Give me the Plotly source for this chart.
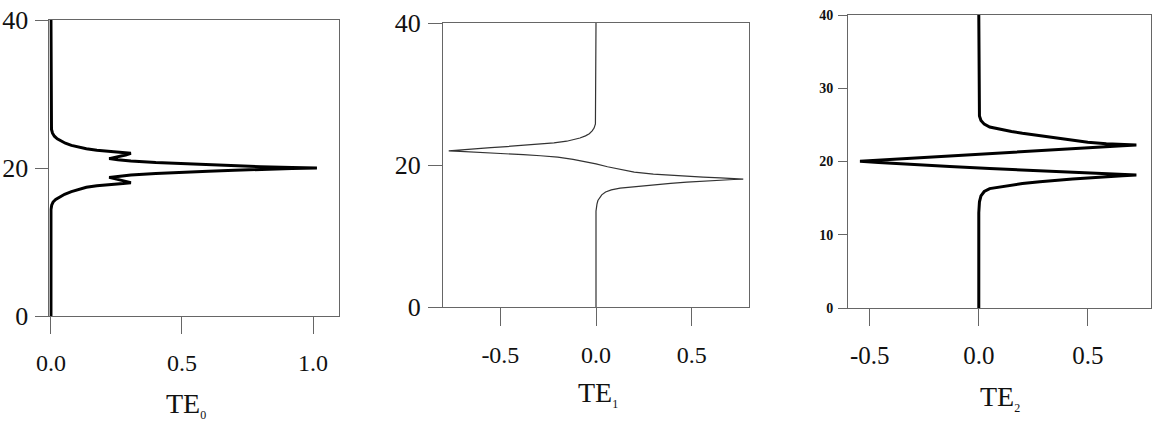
import plotly.graph_objects as go

# ---------------- data ----------------
te0_y = [40, 25.8, 25.2, 24.7, 24.3, 23.95, 23.65, 23.35, 23.05, 22.8, 22.6, 22.4, 22.22, 22.1, 21.98,
         21.75, 21.5, 21.27, 21.12, 20.95, 20.73, 20.58, 20.45, 20.3, 20.18, 20.08, 20.0,
         19.92, 19.82, 19.7, 19.55, 19.42, 19.27, 19.05, 18.88, 18.73, 18.5, 18.25, 18.02,
         17.9, 17.78, 17.6, 17.4, 17.1, 16.8, 16.45, 16.1, 15.75, 15.4, 15.0, 14.4, 0]
te0_x = [0, 0, 0.002, 0.006, 0.013, 0.024, 0.038, 0.055, 0.078, 0.105, 0.135, 0.175, 0.230, 0.275, 0.305,
         0.285, 0.250, 0.222, 0.255, 0.305, 0.40, 0.50, 0.60, 0.70, 0.80, 0.92, 1.015,
         0.92, 0.80, 0.70, 0.60, 0.50, 0.40, 0.305, 0.255, 0.222, 0.250, 0.285, 0.305,
         0.275, 0.230, 0.175, 0.135, 0.105, 0.078, 0.052, 0.032, 0.018, 0.008, 0.003, 0, 0]

te1_y = [40, 26.8, 25.8, 25.2, 24.8, 24.4, 24.1, 23.8, 23.55, 23.35, 23.12, 22.95, 22.77, 22.6,
         22.45, 22.3, 22.15, 22.0,
         21.92, 21.84, 21.72, 21.58, 21.45, 21.3, 21.1, 20.8, 20.5, 20.15, 19.75, 19.35, 19.0,
         18.72, 18.52, 18.4, 18.28, 18.18, 18.08, 18.02,
         17.96, 17.88, 17.76, 17.6, 17.42, 17.22, 17.0, 16.75, 16.5, 16.2, 15.8, 15.4, 15.0,
         14.5, 14.0, 13.5, 0]
te1_x = [0, 0, -0.003, -0.01, -0.02, -0.035, -0.055, -0.084, -0.12, -0.153, -0.22, -0.29, -0.38, -0.467,
         -0.55, -0.64, -0.71, -0.77,
         -0.71, -0.64, -0.55, -0.467, -0.38, -0.29, -0.2, -0.12, -0.06, 0.0, 0.06, 0.126, 0.2,
         0.3, 0.4, 0.475, 0.56, 0.65, 0.72, 0.77,
         0.72, 0.65, 0.56, 0.475, 0.39, 0.3, 0.2, 0.126, 0.08, 0.05, 0.03, 0.018, 0.01,
         0.005, 0.002, 0, 0]

te2_y = [40, 27, 26.2, 25.6, 25.1, 24.7, 24.35, 24.1, 23.85, 23.5, 23.15, 22.85, 22.62, 22.42,
         22.3, 22.25, 22.15, 22.02, 21.8, 21.6, 21.35, 21.12, 20.78, 20.42, 20.22, 20.05,
         19.87, 19.68, 19.33, 19.05, 18.85, 18.6, 18.42, 18.27, 18.2, 18.16, 18.05, 17.95,
         17.75, 17.6, 17.45, 17.25, 17.0, 16.8, 16.6, 16.3, 15.9, 15.3, 14.5, 13, 0]
te2_x = [0, 0, 0.003, 0.01, 0.025, 0.05, 0.1, 0.15, 0.2, 0.28, 0.356, 0.43, 0.5, 0.585,
         0.66, 0.723, 0.66, 0.585, 0.47, 0.356, 0.2, 0.05, -0.133, -0.362, -0.46, -0.545,
         -0.46, -0.362, -0.133, 0.05, 0.2, 0.356, 0.47, 0.585, 0.66, 0.723, 0.66, 0.585,
         0.5, 0.43, 0.356, 0.28, 0.2, 0.15, 0.1, 0.05, 0.025, 0.01, 0.003, 0, 0]

x_ticks = [[0.0, 0.5, 1.0], [-0.5, 0.0, 0.5], [-0.5, 0.0, 0.5]]
y_ticks = [[0, 20, 40], [0, 20, 40], [0, 10, 20, 30, 40]]
title_subs = ["0", "1", "2"]

# ---------------- layout helpers ----------------
W, H = 1152, 422
FONT = "Liberation Serif, Times New Roman, serif"

def dx(a, b):
    return [a / W, b / W]

def dy(top, bottom):
    return [1 - bottom / H, 1 - top / H]

fig = go.Figure()
fig.add_trace(go.Scatter(x=te0_x, y=te0_y, mode="lines", line=dict(color="#000", width=3),
                         xaxis="x", yaxis="y", showlegend=False))
fig.add_trace(go.Scatter(x=te1_x, y=te1_y, mode="lines", line=dict(color="#333", width=1.2),
                         xaxis="x2", yaxis="y2", showlegend=False))
fig.add_trace(go.Scatter(x=te2_x, y=te2_y, mode="lines", line=dict(color="#000", width=3),
                         xaxis="x3", yaxis="y3", showlegend=False))

axcommon = dict(showline=True, mirror=True, linecolor="#666", linewidth=1, showgrid=False,
                zeroline=False, ticks="outside", tickcolor="#666", tickwidth=1, fixedrange=True,
                automargin=False)

panels = [
    dict(xd=dx(49.4, 339.2), yd=dy(20, 316), xr=[-0.006, 1.1],
         xfs=24, yfs=26, yw="normal", ylen=13, xlen=17),
    dict(xd=dx(443, 749), yd=dy(23, 307), xr=[-0.8, 0.8],
         xfs=24, yfs=26, yw="normal", ylen=14, xlen=18),
    dict(xd=dx(848, 1151), yd=dy(15, 308), xr=[-0.6, 0.79],
         xfs=25, yfs=14, yw="bold", ylen=9, xlen=17),
]

lay = dict(width=W, height=H, margin=dict(l=0, r=0, t=0, b=0, autoexpand=False),
           paper_bgcolor="white", plot_bgcolor="white",
           font=dict(family=FONT, color="#111"))
for i, p in enumerate(panels):
    s = "" if i == 0 else str(i + 1)
    lay["xaxis" + s] = dict(axcommon, domain=p["xd"], range=p["xr"], anchor="y" + s,
                             tickvals=x_ticks[i], ticktext=[f"{v:.1f}" for v in x_ticks[i]],
                             ticklen=p["xlen"], tickfont=dict(size=p["xfs"], family=FONT, color="#111"),
                             ticklabelstandoff=8)
    lay["yaxis" + s] = dict(axcommon, domain=p["yd"], range=[0, 40], anchor="x" + s,
                             tickvals=y_ticks[i], ticklen=p["ylen"],
                             tickfont=dict(size=p["yfs"], family=FONT, color="#111",
                                           weight=p["yw"]),
                             ticklabelstandoff=2)
fig.update_layout(**lay)

title_pos = [(186, 405), (598, 394), (1000, 398)]
for sub, (px, py) in zip(title_subs, title_pos):
    fig.add_annotation(text=f"TE<sub><span style='font-size:12px'>{sub}</span></sub>",
                       x=px / W, y=1 - py / H, xref="paper", yref="paper",
                       showarrow=False, font=dict(size=28, family=FONT, color="#111"),
                       xanchor="center", yanchor="middle")

fig.write_html("out.html")
